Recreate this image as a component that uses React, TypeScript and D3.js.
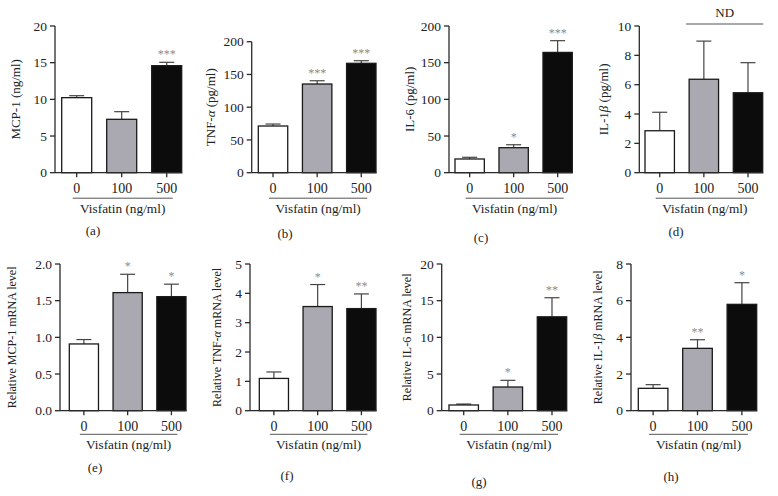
import React from "react";
import * as d3 from "d3";

// ---------- data ----------
const doses = ["0", "100", "500"];

const mcp1Protein = [10.23, 7.28, 14.59];
const mcp1ProteinErr = [0.27, 1.04, 0.46];
const tnfProtein = [71.3, 135.4, 167];
const tnfProteinErr = [3, 5, 4];
const il6Protein = [18.7, 34.1, 164];
const il6ProteinErr = [2.3, 4, 16];
const il1bProtein = [2.86, 6.37, 5.45];
const il1bProteinErr = [1.26, 2.6, 2.05];

const mcp1Mrna = [0.91, 1.61, 1.555];
const mcp1MrnaErr = [0.06, 0.25, 0.17];
const tnfMrna = [1.1, 3.55, 3.48];
const tnfMrnaErr = [0.22, 0.75, 0.5];
const il6Mrna = [0.78, 3.23, 12.8];
const il6MrnaErr = [0.13, 0.91, 2.6];
const il1bMrna = [1.22, 3.4, 5.8];
const il1bMrnaErr = [0.2, 0.47, 1.18];

const ticksA = [0, 5, 10, 15, 20];
const ticksB = [0, 50, 100, 150, 200];
const ticksC = [0, 50, 100, 150, 200];
const ticksD = [0, 2, 4, 6, 8, 10];
const ticksE = [0, 0.5, 1.0, 1.5, 2.0];
const ticksF = [0, 1, 2, 3, 4, 5];
const ticksG = [0, 5, 10, 15, 20];
const ticksH = [0, 2, 4, 6, 8];

const starsA = ["", "", "***"];
const starsB = ["", "***", "***"];
const starsC = ["", "*", "***"];
const starsD = ["", "", ""];
const starsE = ["", "*", "*"];
const starsF = ["", "*", "**"];
const starsG = ["", "*", "**"];
const starsH = ["", "**", "*"];

const xTitle = "Visfatin (ng/ml)";

// ---------- layout ----------
const FONT = "'Liberation Serif', 'Times New Roman', serif";
const fills = ["#ffffff", "#aaa8b0", "#0c0c0c"];

type Panel = {
  values: number[];
  errs: number[];
  ticks: number[];
  fmt: (v: number) => string;
  stars: string[];
  label: React.ReactNode;
  letter: string;
  axisX: number;
  barL: number;
  barR: number;
  top: number;
  bottom: number;
  labelX: number;
  letterX: number;
  letterY: number;
  row: number;
  labelSize: number;
};

const intFmt = d3.format("d");
const decFmt = d3.format(".1f");

const panels: Panel[] = [
  { values: mcp1Protein, errs: mcp1ProteinErr, ticks: ticksA, fmt: intFmt, stars: starsA,
    label: <>MCP-1 (ng/ml)</>, letter: "(a)", axisX: 55, barL: 61.7, barR: 181.7, top: 26, bottom: 172.7,
    labelX: 15, letterX: 93, letterY: 230, row: 0, labelSize: 13 },
  { values: tnfProtein, errs: tnfProteinErr, ticks: ticksB, fmt: intFmt, stars: starsB,
    label: <>TNF-<tspan fontStyle="italic">α</tspan> (pg/ml)</>, letter: "(b)", axisX: 251.7, barL: 258.3, barR: 376, top: 41.7, bottom: 172.7,
    labelX: 210, letterX: 285, letterY: 233, row: 0, labelSize: 13 },
  { values: il6Protein, errs: il6ProteinErr, ticks: ticksC, fmt: intFmt, stars: starsC,
    label: <>IL-6 (pg/ml)</>, letter: "(c)", axisX: 449, barL: 455, barR: 572.3, top: 26, bottom: 172.7,
    labelX: 409, letterX: 481, letterY: 237, row: 0, labelSize: 13 },
  { values: il1bProtein, errs: il1bProteinErr, ticks: ticksD, fmt: intFmt, stars: starsD,
    label: <>IL-1<tspan fontStyle="italic">β</tspan> (pg/ml)</>, letter: "(d)", axisX: 639.3, barL: 645, barR: 762.7, top: 26, bottom: 172.7,
    labelX: 603, letterX: 676, letterY: 231, row: 0, labelSize: 13 },
  { values: mcp1Mrna, errs: mcp1MrnaErr, ticks: ticksE, fmt: decFmt, stars: starsE,
    label: <>Relative MCP-1 mRNA level</>, letter: "(e)", axisX: 60, barL: 69.3, barR: 186, top: 264, bottom: 410.7,
    labelX: 11.5, letterX: 95, letterY: 467, row: 1, labelSize: 12 },
  { values: tnfMrna, errs: tnfMrnaErr, ticks: ticksF, fmt: intFmt, stars: starsF,
    label: <>Relative TNF-<tspan fontStyle="italic">α</tspan> mRNA level</>, letter: "(f)", axisX: 250, barL: 259.3, barR: 376, top: 264, bottom: 410.7,
    labelX: 216.7, letterX: 287, letterY: 475, row: 1, labelSize: 12 },
  { values: il6Mrna, errs: il6MrnaErr, ticks: ticksG, fmt: intFmt, stars: starsG,
    label: <>Relative IL-6 mRNA level</>, letter: "(g)", axisX: 441.7, barL: 449, barR: 566.7, top: 264, bottom: 410.7,
    labelX: 406.7, letterX: 479, letterY: 481, row: 1, labelSize: 12 },
  { values: il1bMrna, errs: il1bMrnaErr, ticks: ticksH, fmt: intFmt, stars: starsH,
    label: <>Relative IL-1<tspan fontStyle="italic">β</tspan> mRNA level</>, letter: "(h)", axisX: 631, barL: 638.3, barR: 756.7, top: 264, bottom: 410.7,
    labelX: 597.7, letterX: 671, letterY: 476, row: 1, labelSize: 12 },
];

function BarPanel({ p }: { p: Panel }) {
  const maxTick = p.ticks[p.ticks.length - 1];
  const y = d3.scaleLinear().domain([0, maxTick]).range([p.bottom, p.top]);
  const x = d3.scaleBand<string>().domain(doses).range([p.barL, p.barR]).paddingInner(1 / 3).paddingOuter(0);
  const bw = x.bandwidth();
  const cx = (d: string) => (x(d) as number) + bw / 2;
  const underY = p.row === 0 ? p.bottom + 25.5 : p.bottom + 23.6;
  const ulL = cx(doses[0]) - 4;
  const ulR = cx(doses[doses.length - 1]) + 6;
  const axisColor = "#2a2a2a";
  return (
    <g>
      {doses.map((d, i) => {
        const v = p.values[i];
        const e = p.errs[i];
        const bx = x(d) as number;
        const c = cx(d);
        return (
          <g key={d}>
            <line x1={c} x2={c} y1={y(v)} y2={y(v + e)} stroke="#444" strokeWidth={1.2} />
            <line x1={c - 7.5} x2={c + 7.5} y1={y(v + e)} y2={y(v + e)} stroke="#444" strokeWidth={1.2} />
            <rect x={bx} y={y(v)} width={bw} height={p.bottom - y(v)} fill={fills[i]} stroke="#1a1a1a" strokeWidth={1.3} />
            {p.stars[i] && (
              <text x={c} y={y(v + e) - 4} textAnchor="middle" fontSize={12} fill="#8c8c8c" fontFamily={FONT}>
                {p.stars[i]}
              </text>
            )}
          </g>
        );
      })}
      <line x1={p.axisX} x2={p.axisX} y1={p.top} y2={p.bottom} stroke={axisColor} strokeWidth={1.3} />
      {p.ticks.map((t) => (
        <g key={t}>
          <line x1={p.axisX - 5} x2={p.axisX} y1={y(t)} y2={y(t)} stroke={axisColor} strokeWidth={1.3} />
          <text x={p.axisX - 8} y={y(t)} dy="0.35em" textAnchor="end" fontSize={13.5} fill="#222" fontFamily={FONT}>
            {p.fmt(t)}
          </text>
        </g>
      ))}
      <line x1={p.axisX} x2={p.barR + 0.5} y1={p.bottom} y2={p.bottom} stroke={axisColor} strokeWidth={1.3} />
      {doses.map((d) => (
        <g key={d}>
          <line x1={cx(d)} x2={cx(d)} y1={p.bottom} y2={p.bottom + 4.5} stroke={axisColor} strokeWidth={1.3} />
          <text x={cx(d)} y={p.bottom + 20} textAnchor="middle" fontSize={14} fill="#222" fontFamily={FONT}>
            {d}
          </text>
        </g>
      ))}
      <line x1={ulL} x2={ulR} y1={underY} y2={underY} stroke="#555" strokeWidth={1} />
      <text x={(ulL + ulR) / 2} y={underY + 15} textAnchor="middle" fontSize={13.3} fill="#222" fontFamily={FONT}>
        {xTitle}
      </text>
      <text
        transform={`translate(${p.labelX},${(p.top + p.bottom) / 2}) rotate(-90)`}
        textAnchor="middle"
        dy="0.35em"
        fontSize={p.labelSize}
        fill="#222"
        fontFamily={FONT}
      >
        {p.label}
      </text>
      <text x={p.letterX} y={p.letterY} dy="0.35em" textAnchor="middle" fontSize={13} fill="#222" fontFamily={FONT}>
        {p.letter}
      </text>
    </g>
  );
}

export default function App() {
  const pd = panels[3];
  const xd = d3.scaleBand<string>().domain(doses).range([pd.barL, pd.barR]).paddingInner(1 / 3);
  const ndL = (xd(doses[1]) as number) - 3;
  const ndR = (xd(doses[2]) as number) + xd.bandwidth() + 0.5;
  return (
    <svg width={778} height={496} style={{ position: "absolute", left: 0, top: 0, background: "#fff" }}>
      <rect width={778} height={496} fill="#fff" />
      {panels.map((p) => (
        <BarPanel key={p.letter} p={p} />
      ))}
      <line x1={ndL} x2={ndR} y1={24} y2={24} stroke="#555" strokeWidth={1.2} />
      <text x={(ndL + ndR) / 2} y={12} dy="0.35em" textAnchor="middle" fontSize={13} fill="#222" fontFamily={FONT}>
        ND
      </text>
    </svg>
  );
}
